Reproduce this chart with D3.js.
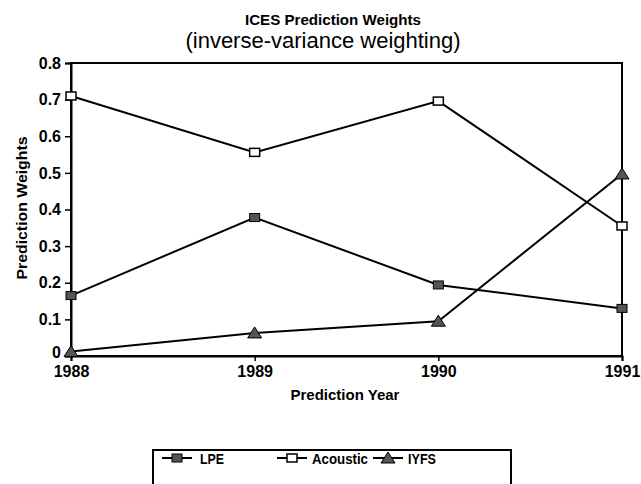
<!DOCTYPE html>
<html><head><meta charset="utf-8">
<script src="https://cdn.jsdelivr.net/npm/d3@7"></script>
<style>body{margin:0;background:#fff}</style>
</head><body>
<svg id="c" width="641" height="484"></svg>
<script>
const years = [1988, 1989, 1990, 1991];
const lpe = [0.165, 0.378, 0.194, 0.13];
const acoustic = [0.71, 0.556, 0.696, 0.355];
const iyfs = [0.012, 0.063, 0.095, 0.497];
const yTicks = [0, 0.1, 0.2, 0.3, 0.4, 0.5, 0.6, 0.7, 0.8];
const seriesNames = ["LPE", "Acoustic", "IYFS"];

const svg = d3.select("#c");
const L = 71, R = 622, T = 63, B = 356;
const x = d3.scaleLinear().domain([1988, 1991]).range([L, R]);
const y = d3.scaleLinear().domain([0, 0.8]).range([B, T]);
const font = "'Liberation Sans', Arial, sans-serif";

// frame
svg.append("rect").attr("x", L).attr("y", T).attr("width", R - L).attr("height", B - T)
  .attr("fill", "none").attr("stroke", "#000").attr("stroke-width", 2);

const yAxis = svg.append("g").attr("transform", `translate(${L},0)`)
  .call(d3.axisLeft(y).tickValues(yTicks).tickSize(6).tickPadding(4)
    .tickFormat(d => d === 0 ? "0" : d3.format(".1f")(d)));
yAxis.select(".domain").attr("stroke-width", 2);
yAxis.selectAll("line").attr("stroke-width", 1.5);
yAxis.selectAll("text").attr("font-family", font).attr("font-weight", "bold")
  .attr("font-size", 16).attr("fill", "#000")
  .attr("dy", d => d === 0 ? "0.1em" : "0.32em");

const xAxis = svg.append("g").attr("transform", `translate(0,${B})`)
  .call(d3.axisBottom(x).tickValues(years).tickSize(5).tickPadding(5).tickFormat(d3.format("d")));
xAxis.select(".domain").attr("stroke-width", 2);
xAxis.selectAll("line").attr("stroke-width", 1.5);
xAxis.selectAll("text").attr("font-family", font).attr("font-weight", "bold")
  .attr("font-size", 16).attr("fill", "#000");

// titles
svg.append("text").attr("x", 333).attr("y", 25).attr("text-anchor", "middle")
  .attr("font-family", font).attr("font-weight", "bold").attr("font-size", 15)
  .attr("textLength", 176).attr("lengthAdjust", "spacingAndGlyphs")
  .text("ICES Prediction Weights");
svg.append("text").attr("x", 323).attr("y", 48).attr("text-anchor", "middle")
  .attr("font-family", font).attr("font-size", 22)
  .text("(inverse-variance weighting)");
svg.append("text").attr("x", 345).attr("y", 400).attr("text-anchor", "middle")
  .attr("font-family", font).attr("font-weight", "bold").attr("font-size", 15)
  .text("Prediction Year");
svg.append("text").attr("transform", "translate(27,208) rotate(-90)").attr("text-anchor", "middle")
  .attr("font-family", font).attr("font-weight", "bold").attr("font-size", 15)
  .attr("textLength", 143).attr("lengthAdjust", "spacingAndGlyphs")
  .text("Prediction Weights");

const line = d3.line().x((d, i) => x(years[i])).y(d => y(d));
const all = [lpe, acoustic, iyfs];
all.forEach(s => {
  svg.append("path").datum(s).attr("d", line).attr("fill", "none")
    .attr("stroke", "#000").attr("stroke-width", 2);
});

function marker(g, type, cx, cy) {
  if (type === 0) {
    g.append("rect").attr("x", cx - 5).attr("y", cy - 4).attr("width", 10).attr("height", 8)
      .attr("fill", "#555").attr("stroke", "#000").attr("stroke-width", 1);
  } else if (type === 1) {
    g.append("rect").attr("x", cx - 5).attr("y", cy - 4).attr("width", 10).attr("height", 8)
      .attr("fill", "#fff").attr("stroke", "#000").attr("stroke-width", 1.5);
  } else {
    g.append("path").attr("d", `M${cx - 7},${cy + 5}L${cx},${cy - 6}L${cx + 7},${cy + 5}Z`)
      .attr("fill", "#555").attr("stroke", "#000").attr("stroke-width", 1);
  }
}
all.forEach((s, k) => {
  const g = svg.append("g");
  s.forEach((v, i) => marker(g, k, x(years[i]), y(v)));
});

// legend
svg.append("rect").attr("x", 153).attr("y", 450).attr("width", 358).attr("height", 60)
  .attr("fill", "#fff").attr("stroke", "#000").attr("stroke-width", 2);
const lx = [162, 277, 373];
const tx = [200, 312, 408];
const tl = [24, 56, 28];
seriesNames.forEach((n, k) => {
  const g = svg.append("g");
  g.append("line").attr("x1", lx[k]).attr("x2", lx[k] + 30).attr("y1", 458).attr("y2", 458)
    .attr("stroke", "#000").attr("stroke-width", 2);
  marker(g, k, lx[k] + 15, 458);
  g.append("text").attr("x", tx[k]).attr("y", 464).attr("font-family", font)
    .attr("font-weight", "bold").attr("font-size", 15)
    .attr("textLength", tl[k]).attr("lengthAdjust", "spacingAndGlyphs").text(n);
});
</script>
</body></html>
